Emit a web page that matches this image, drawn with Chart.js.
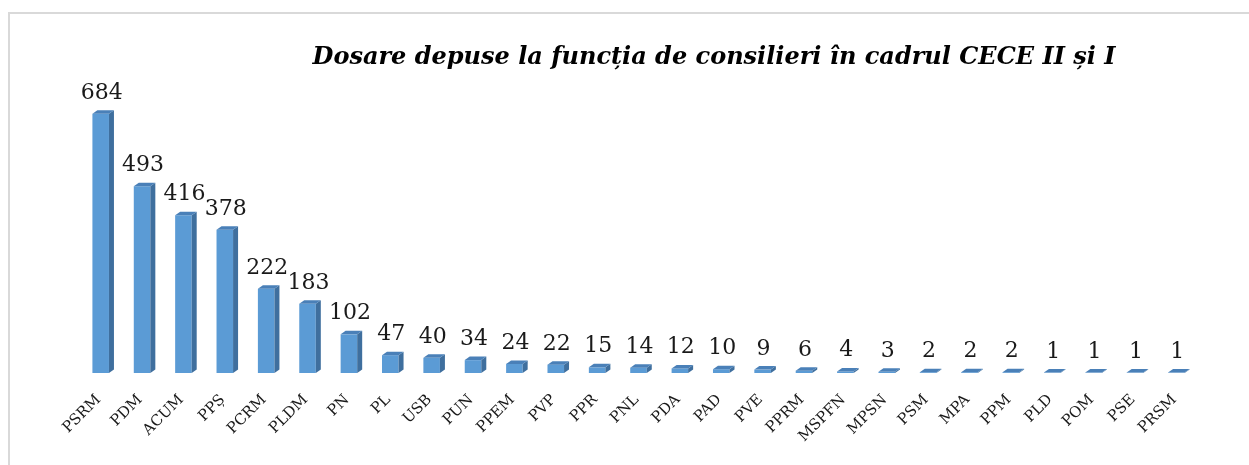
<!DOCTYPE html>
<html>
<head>
<meta charset="utf-8">
<script src="https://cdn.jsdelivr.net/npm/chart.js@4"></script>
<style>
  html, body { margin: 0; padding: 0; background: #fff; }
  #wrap { position: relative; width: 1249px; height: 465px; overflow: hidden; }
  #frame { position: absolute; left: 8px; top: 12px; width: 1300px; height: 500px;
           border-top: 2px solid #d9d9d9; border-left: 2px solid #d9d9d9; }
  canvas { position: absolute; left: 0; top: 0; }
</style>
</head>
<body>
<div id="wrap">
  <div id="frame"></div>
  <canvas id="barChart"></canvas>
</div>
<script>
const chartTitle = 'Dosare depuse la funcția de consilieri în cadrul CECE II și I';
const parties = ['PSRM', 'PDM', 'ACUM', 'PPȘ', 'PCRM', 'PLDM', 'PN', 'PL', 'USB', 'PUN', 'PPEM', 'PVP', 'PPR', 'PNL',
    'PDA', 'PAD', 'PVE', 'PPRM', 'MSPFN', 'MPSN', 'PSM', 'MPA', 'PPM', 'PLD', 'POM', 'PSE', 'PRSM'];
const dosare = [684, 493, 416, 378, 222, 183, 102, 47, 40, 34, 24, 22, 15, 14, 12, 10, 9, 6, 4, 3, 2, 2, 2, 1, 1, 1, 1];

// side and top faces of each bar, plus value labels and the title
const bars3d = {
    id: 'bars3d',
    afterDatasetsDraw(chart) {
        const ctx = chart.ctx;
        const dx = 5, dy = 3.5;
        chart.getDatasetMeta(0).data.forEach((bar, i) => {
            const w = bar.width / 2;
            const l = bar.x - w, r = bar.x + w, t = bar.y, b = bar.base;
            ctx.save();
            ctx.fillStyle = '#3f6f9e';
            ctx.beginPath();
            ctx.moveTo(r, t); ctx.lineTo(r + dx, t - dy); ctx.lineTo(r + dx, b - dy); ctx.lineTo(r, b);
            ctx.closePath(); ctx.fill();
            ctx.fillStyle = '#4a80b8';
            ctx.beginPath();
            ctx.moveTo(l, t); ctx.lineTo(l + dx, t - dy); ctx.lineTo(r + dx, t - dy); ctx.lineTo(r, t);
            ctx.closePath(); ctx.fill();
            ctx.fillStyle = '#1a1a1a';
            ctx.font = '22px "DejaVu Serif"';
            ctx.textAlign = 'center';
            ctx.textBaseline = 'alphabetic';
            ctx.fillText(dosare[i], bar.x + 1, t - 15);
            ctx.restore();
        });
        ctx.save();
        ctx.fillStyle = '#000';
        ctx.font = 'italic bold 24px "DejaVu Serif"';
        ctx.textAlign = 'center';
        ctx.textBaseline = 'middle';
        ctx.fillText(chartTitle, 714, 58);
        ctx.restore();
    }
};

const barCtx = document.getElementById('barChart').getContext('2d');
const barChart = new Chart(barCtx, {
    type: 'bar',
    data: {
        labels: parties,
        datasets: [{
            data: dosare,
            backgroundColor: '#5b9bd5',
            barPercentage: 0.8,
            categoryPercentage: 0.5
        }]
    },
    options: {
        responsive: true,
        maintainAspectRatio: false,
        animation: false,
        layout: { padding: { left: 80, right: 52, top: 85, bottom: 0 } },
        plugins: {
            legend: { display: false },
            tooltip: { enabled: false }
        },
        scales: {
            x: {
                grid: { display: false },
                border: { display: false },
                afterFit: s => { s.height = 92; },
                ticks: {
                    autoSkip: false,
                    maxRotation: 45,
                    minRotation: 45,
                    padding: 10,
                    labelOffset: -2,
                    color: '#1a1a1a',
                    font: { family: 'DejaVu Serif', size: 15 }
                }
            },
            y: {
                display: false,
                min: 0,
                max: 760
            }
        }
    },
    plugins: [bars3d]
});
</script>
</body>
</html>
